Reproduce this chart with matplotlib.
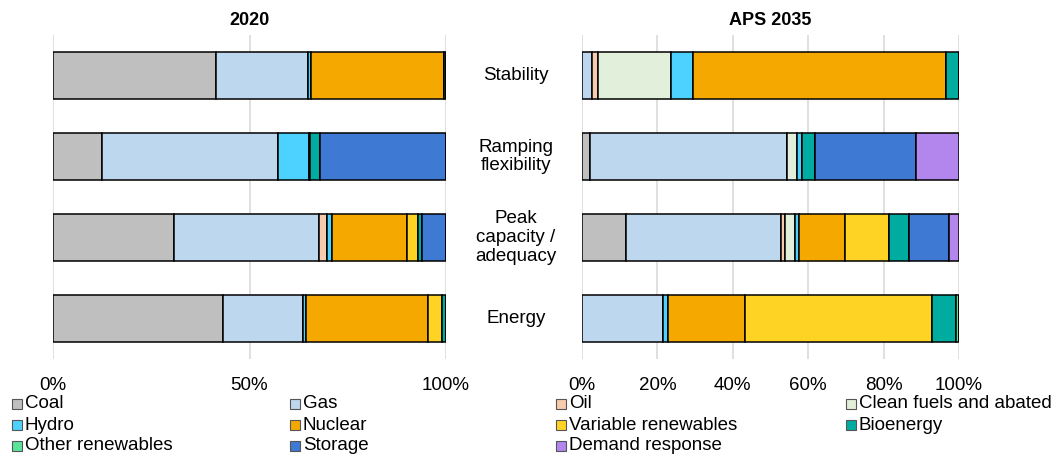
import matplotlib
matplotlib.use("Agg")
import matplotlib.pyplot as plt
import matplotlib.transforms as mtransforms
from matplotlib.patches import Rectangle
import numpy as np

plt.rcParams['font.family'] = ['Liberation Sans', 'DejaVu Sans']

categories = ["Stability", "Ramping\nflexibility", "Peak\ncapacity /\nadequacy", "Energy"]
sources = ["Coal", "Gas", "Oil", "Clean fuels and abated", "Hydro", "Nuclear",
           "Variable renewables", "Bioenergy", "Other renewables", "Storage", "Demand response"]
colors = ["#BFBFBF", "#BDD7EE", "#F8CBAD", "#E2EFDA", "#4DD2FF", "#F5A800",
          "#FFD324", "#00AC9F", "#5BE39C", "#3E7AD3", "#B386ED"]

# shares (%) per category: order Stability, Ramping, Peak, Energy
data_2020 = {
    "Coal":                   [41.6, 12.5, 30.8, 43.3],
    "Gas":                    [23.2, 44.7, 37.0, 20.3],
    "Oil":                    [0.0, 0.0, 1.8, 0.0],
    "Clean fuels and abated": [0.0, 0.0, 0.0, 0.0],
    "Hydro":                  [0.8, 7.9, 1.5, 0.9],
    "Nuclear":                [34.0, 0.4, 19.0, 31.0],
    "Variable renewables":    [0.0, 0.0, 2.8, 3.6],
    "Bioenergy":              [0.0, 2.5, 1.1, 0.9],
    "Other renewables":       [0.0, 0.0, 0.0, 0.0],
    "Storage":                [0.4, 32.0, 6.0, 0.0],
    "Demand response":        [0.0, 0.0, 0.0, 0.0],
}
data_2035 = {
    "Coal":                   [0.0, 2.0, 11.7, 0.0],
    "Gas":                    [2.6, 52.4, 41.0, 21.4],
    "Oil":                    [1.6, 0.0, 1.2, 0.0],
    "Clean fuels and abated": [19.3, 2.6, 2.5, 0.0],
    "Hydro":                  [6.0, 1.4, 1.1, 1.5],
    "Nuclear":                [67.1, 0.0, 12.3, 20.3],
    "Variable renewables":    [0.0, 0.0, 11.5, 49.7],
    "Bioenergy":              [3.4, 3.4, 5.5, 6.4],
    "Other renewables":       [0.0, 0.0, 0.0, 0.7],
    "Storage":                [0.0, 26.8, 10.5, 0.0],
    "Demand response":        [0.0, 11.4, 2.7, 0.0],
}
titles = ["2020", "APS 2035"]
ticks_left = [0, 50, 100]
ticks_right = [0, 20, 40, 60, 80, 100]

W, H = 1061, 457
fig = plt.figure(figsize=(W / 100, H / 100), dpi=100)

def ax_rect(x0, x1, y0, y1):
    return [x0 / W, 1 - y1 / H, (x1 - x0) / W, (y1 - y0) / H]

axL = fig.add_axes(ax_rect(53, 446, 35, 359))
axR = fig.add_axes(ax_rect(582, 959, 35, 359))

y = np.arange(len(categories))
for ax, data, title, ticks in [(axL, data_2020, titles[0], ticks_left),
                               (axR, data_2035, titles[1], ticks_right)]:
    left = np.zeros(len(categories))
    for src, col in zip(sources, colors):
        vals = np.array(data[src])
        ax.barh(y, vals, left=left, height=0.57, color=col, edgecolor="black",
                linewidth=1.1, zorder=3)
        left += vals
    ax.set_xlim(0, 100)
    ax.set_ylim(3.5, -0.5)
    ax.set_xticks(ticks)
    ax.set_xticklabels([f"{t}%" for t in ticks], fontsize=13.5)
    ax.set_yticks([])
    ax.tick_params(axis="x", length=0, pad=13)
    for s in ax.spines.values():
        s.set_visible(False)
    ax.grid(axis="x", color="#DDDDDD", linewidth=1.3, zorder=0)
    ax.set_title(title, fontsize=13, fontweight="bold", pad=7)

trans = mtransforms.blended_transform_factory(fig.transFigure, axL.transData)
for yi, cat in zip(y, categories):
    fig.text(516 / W, yi, cat, transform=trans, ha="center", va="center",
             fontsize=13.5, linespacing=1.15)

# legend (manual grid, row-major)
col_x = [12, 290, 556, 846]
row_y = [404, 425, 446]
for i, (src, col) in enumerate(zip(sources, colors)):
    r, c = divmod(i, 4)
    x0 = col_x[c]
    yc = row_y[r]
    fig.patches.append(Rectangle((x0 / W, 1 - (yc + 5) / H), 10 / W, 10 / H,
                                 transform=fig.transFigure, facecolor=col,
                                 edgecolor="#555555", linewidth=0.8))
    fig.text((x0 + 13) / W, 1 - yc / H, src, ha="left", va="center", fontsize=13.5)

fig.savefig("out.png", dpi=100)
